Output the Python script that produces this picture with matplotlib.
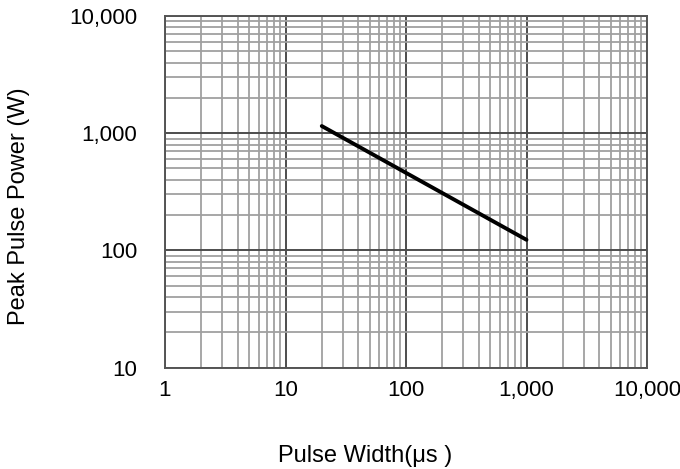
import matplotlib
matplotlib.use("Agg")
import matplotlib.pyplot as plt
from matplotlib.ticker import LogLocator, FixedLocator, NullFormatter

plt.rcParams["font.family"] = ["Liberation Sans", "DejaVu Sans"]

# data
pulse_width = [20, 1000]          # us
peak_power = [1150, 123]          # W
x_ticks = [1, 10, 100, 1000, 10000]
x_labels = ["1", "10", "100", "1,000", "10,000"]
y_ticks = [10, 100, 1000, 10000]
y_labels = ["10", "100", "1,000", "10,000"]

fig = plt.figure(figsize=(6.8, 4.69), dpi=100)
ax = fig.add_axes([165 / 680, 1 - 367.5 / 469, (647 - 165) / 680, (367.5 - 16) / 469])

ax.set_xscale("log")
ax.set_yscale("log")
ax.set_xlim(1, 10000)
ax.set_ylim(10, 10000)

ax.xaxis.set_major_locator(FixedLocator(x_ticks))
ax.yaxis.set_major_locator(FixedLocator(y_ticks))
ax.set_xticklabels(x_labels)
ax.set_yticklabels(y_labels)
ax.xaxis.set_minor_locator(LogLocator(base=10, subs=range(2, 10)))
ax.yaxis.set_minor_locator(LogLocator(base=10, subs=range(2, 10)))
ax.xaxis.set_minor_formatter(NullFormatter())
ax.yaxis.set_minor_formatter(NullFormatter())

ax.grid(which="minor", color="#a0a0a0", lw=1.3)
ax.grid(which="major", color="#4d4d4d", lw=1.4)
ax.set_axisbelow(True)
for s in ax.spines.values():
    s.set_color("#555555")
    s.set_linewidth(1.4)

ax.tick_params(which="both", length=0)
ax.tick_params(axis="x", pad=9, labelsize=16)
ax.tick_params(axis="y", pad=20, labelsize=16)

ax.plot(pulse_width, peak_power, color="black", lw=2.8, solid_capstyle="round")

fig.text(365 / 680, 1 - 456 / 469, "Pulse Width(μs )", ha="center", va="center", fontsize=17)
fig.text(19 / 680, 1 - 206 / 469, "Peak Pulse Power (W)", ha="center", va="center",
         rotation=90, fontsize=17)

fig.savefig("out.png", dpi=100, facecolor="white")
